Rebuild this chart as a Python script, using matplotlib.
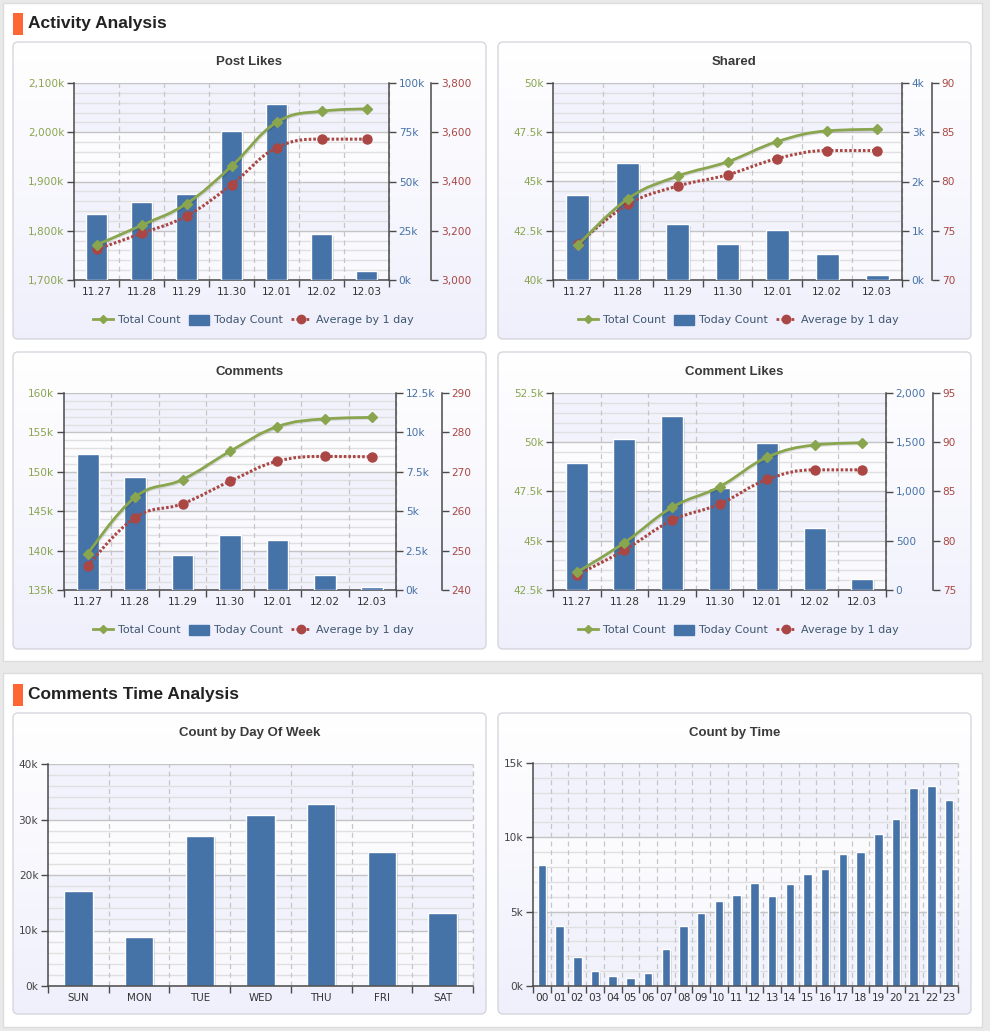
import numpy as np
import matplotlib
matplotlib.use('Agg')
import matplotlib.pyplot as plt
from matplotlib.path import Path
from matplotlib.patches import PathPatch, FancyBboxPatch, Rectangle, Patch
from matplotlib.lines import Line2D
import matplotlib.patheffects as pe

plt.rcParams['font.family'] = ['DejaVu Sans']

# ---------------- data ----------------
dates = ['11.27', '11.28', '11.29', '11.30', '12.01', '12.02', '12.03']

post_total = [1771500, 1811000, 1855000, 1931000, 2020000, 2042700, 2047400]
post_today = [33700, 39800, 43800, 75700, 89400, 23100, 4400]
post_avg = [3125, 3189, 3260, 3387, 3537, 3572, 3572]

shared_total = [41770, 44120, 45270, 46000, 47030, 47570, 47650]
shared_today = [1720, 2370, 1140, 740, 1020, 530, 100]
shared_avg = [73.65, 77.67, 79.53, 80.68, 82.33, 83.14, 83.14]

comments_total = [139560, 146780, 149020, 152600, 155740, 156710, 156900]
comments_today = [8610, 7160, 2240, 3500, 3190, 970, 190]
comments_avg = [246.1, 258.4, 261.9, 267.6, 272.7, 273.9, 273.8]

clikes_total = [43400, 44900, 46690, 47740, 49240, 49860, 49970]
clikes_today = [1287, 1530, 1764, 1037, 1493, 628, 115]
clikes_avg = [76.52, 79.05, 82.06, 83.72, 86.22, 87.2, 87.2]

dow_labels = ['SUN', 'MON', 'TUE', 'WED', 'THU', 'FRI', 'SAT']
dow_counts = [17100, 8860, 27070, 30840, 32800, 24200, 13200]

hour_labels = ['%02d' % h for h in range(24)]
hour_counts = [8120, 4060, 1930, 990, 650, 520, 900, 2470, 4060, 4890, 5740, 6100,
               6900, 6030, 6840, 7510, 7890, 8860, 8990, 10250, 11210, 13300, 13430, 12490]

# tick values / labels
post_left_ticks = [1700000, 1800000, 1900000, 2000000, 2100000]
post_left_labels = ['1,700k', '1,800k', '1,900k', '2,000k', '2,100k']
post_right_ticks = [0, 25000, 50000, 75000, 100000]
post_right_labels = ['0k', '25k', '50k', '75k', '100k']
post_third_ticks = [3000, 3200, 3400, 3600, 3800]
post_third_labels = ['3,000', '3,200', '3,400', '3,600', '3,800']

shared_left_ticks = [40000, 42500, 45000, 47500, 50000]
shared_left_labels = ['40k', '42.5k', '45k', '47.5k', '50k']
shared_right_ticks = [0, 1000, 2000, 3000, 4000]
shared_right_labels = ['0k', '1k', '2k', '3k', '4k']
shared_third_ticks = [70, 75, 80, 85, 90]
shared_third_labels = ['70', '75', '80', '85', '90']

comments_left_ticks = [135000, 140000, 145000, 150000, 155000, 160000]
comments_left_labels = ['135k', '140k', '145k', '150k', '155k', '160k']
comments_right_ticks = [0, 2500, 5000, 7500, 10000, 12500]
comments_right_labels = ['0k', '2.5k', '5k', '7.5k', '10k', '12.5k']
comments_third_ticks = [240, 250, 260, 270, 280, 290]
comments_third_labels = ['240', '250', '260', '270', '280', '290']

clikes_left_ticks = [42500, 45000, 47500, 50000, 52500]
clikes_left_labels = ['42.5k', '45k', '47.5k', '50k', '52.5k']
clikes_right_ticks = [0, 500, 1000, 1500, 2000]
clikes_right_labels = ['0', '500', '1,000', '1,500', '2,000']
clikes_third_ticks = [75, 80, 85, 90, 95]
clikes_third_labels = ['75', '80', '85', '90', '95']

dow_ticks = [0, 10000, 20000, 30000, 40000]
dow_tick_labels = ['0k', '10k', '20k', '30k', '40k']
hour_ticks = [0, 5000, 10000, 15000]
hour_tick_labels = ['0k', '5k', '10k', '15k']

legend_labels = ['Total Count', 'Today Count', 'Average by 1 day']

# ---------------- style ----------------
W, H = 990, 1031
GREEN = '#89A54E'
BLUE = '#4572A7'
RED = '#AA4643'
AXIS = '#4a4a4a'
TXT = '#3E576F'

fig = plt.figure(figsize=(W / 100, H / 100), dpi=100)
fig.patch.set_facecolor('#e9e9e9')

bg = fig.add_axes([0, 0, 1, 1])
bg.set_xlim(0, W)
bg.set_ylim(H, 0)
bg.axis('off')


def px_rect(l, t, r, b):
    return [l / W, 1 - b / H, (r - l) / W, (b - t) / H]


# page panels
bg.add_patch(Rectangle((3, 3), 979, 658, fc='white', ec='#dcdcdc', lw=1))
bg.add_patch(Rectangle((3, 673), 979, 354, fc='white', ec='#dcdcdc', lw=1))


def header(y, text):
    bg.add_patch(Rectangle((13, y - 11), 9.5, 22, fc='#FF6633', ec='none'))
    bg.text(28, y, text, fontsize=12.5, fontweight='bold', va='center', ha='left',
            color='#222222', family=['Liberation Sans', 'DejaVu Sans'])


header(23.5, 'Activity Analysis')
header(695, 'Comments Time Analysis')

grad = np.linspace(0, 1, 200)[:, None, None]
top_c = np.array([1.0, 1.0, 1.0])
bot_c = np.array([0.94, 0.94, 0.99])
grad_img = top_c * (1 - grad) + bot_c * grad


def card(x0, y0, x1, y1, title):
    patch = FancyBboxPatch((x0, y0), x1 - x0, y1 - y0,
                           boxstyle='round,pad=0,rounding_size=5',
                           fc='none', ec='#d6d6de', lw=1, zorder=3)
    bg.add_patch(patch)
    im = bg.imshow(grad_img, extent=(x0, x1, y1, y0), aspect='auto',
                   origin='upper', zorder=2, interpolation='bilinear')
    im.set_clip_path(patch)
    bg.text((x0 + x1) / 2, y0 + 20, title, fontsize=9.5, fontweight='bold',
            ha='center', va='center', color='#3a3a3a',
            family=['Liberation Sans', 'DejaVu Sans'])


def spline_path(xs, ys, smoothing=1.5):
    n = len(xs)
    denom = smoothing + 1
    lc = [(xs[i], ys[i]) for i in range(n)]
    rc = [(xs[i], ys[i]) for i in range(n)]
    for i in range(1, n - 1):
        lx, ly = xs[i - 1], ys[i - 1]
        px, py = xs[i], ys[i]
        nx, ny = xs[i + 1], ys[i + 1]
        lcx = (smoothing * px + lx) / denom
        lcy = (smoothing * py + ly) / denom
        rcx = (smoothing * px + nx) / denom
        rcy = (smoothing * py + ny) / denom
        if rcx != lcx:
            corr = ((rcy - lcy) * (rcx - px)) / (rcx - lcx) + py - rcy
            lcy += corr
            rcy += corr
        if lcy > ly and lcy > py:
            lcy = max(ly, py); rcy = 2 * py - lcy
        elif lcy < ly and lcy < py:
            lcy = min(ly, py); rcy = 2 * py - lcy
        if rcy > ny and rcy > py:
            rcy = max(ny, py); lcy = 2 * py - rcy
        elif rcy < ny and rcy < py:
            rcy = min(ny, py); lcy = 2 * py - rcy
        lc[i] = (lcx, lcy)
        rc[i] = (rcx, rcy)
    verts = [(xs[0], ys[0])]
    codes = [Path.MOVETO]
    for i in range(1, n):
        verts += [rc[i - 1], lc[i], (xs[i], ys[i])]
        codes += [Path.CURVE4] * 3
    return Path(verts, codes)


def style_x(ax, labels, fs=7.6):
    n = len(labels)
    ax.set_xlim(-0.5, n - 0.5)
    ax.set_xticks(range(n))
    ax.set_xticklabels(labels, fontsize=fs, color='#333333')
    ax.tick_params(axis='x', which='major', length=0, pad=5)
    ax.set_xticks(np.arange(-0.5, n, 1.0), minor=True)
    ax.tick_params(axis='x', which='minor', length=5, width=1, color=AXIS, direction='out')
    for xb in np.arange(0.5, n, 1.0):
        ax.axvline(xb, color='#c6c6c6', lw=0.9, ls=(0, (4, 3)), zorder=0.6, clip_on=False)


def style_left(ax, ticks, labels, color):
    ax.set_facecolor((1, 1, 1, 0.55))
    ax.set_ylim(ticks[0], ticks[-1])
    nb = len(ticks) - 1
    for i in range(nb):
        if (nb - 1 - i) % 2 == 0:
            ax.axhspan(ticks[i], ticks[i + 1], color='#f2f2fc', zorder=0.1, lw=0)
    ax.set_yticks(ticks)
    ax.set_yticklabels(labels, color=color, fontsize=7.6)
    step = (ticks[1] - ticks[0]) / 5
    ax.set_yticks(np.arange(ticks[0], ticks[-1] + step / 2, step), minor=True)
    ax.tick_params(axis='y', which='minor', length=0)
    ax.tick_params(axis='y', which='major', length=5, width=1, color=AXIS, direction='out', pad=2)
    ax.grid(True, axis='y', which='major', color='#c4c4c4', lw=1)
    ax.grid(True, axis='y', which='minor', color='#e0e0e0', lw=1)
    ax.set_axisbelow(True)
    for s in ['top', 'right']:
        ax.spines[s].set_visible(False)
    for s in ['left', 'bottom']:
        ax.spines[s].set_color(AXIS)
        ax.spines[s].set_linewidth(1.1)


bar_fx = [pe.SimplePatchShadow(offset=(1.2, -1.2), shadow_rgbFace='black', alpha=0.13), pe.Normal()]
line_fx = [pe.SimpleLineShadow(offset=(0.8, -0.8), shadow_color='black', alpha=0.10), pe.Normal()]


def legend(cx, cy):
    handles = [Line2D([], [], color=GREEN, lw=2, marker='D', markersize=4.5),
               Patch(facecolor=BLUE, edgecolor=BLUE),
               Line2D([], [], color=RED, lw=2, ls=(0, (1, 0.8)), marker='o', markersize=6)]
    fig.legend(handles, legend_labels, loc='center', bbox_to_anchor=(cx / W, 1 - cy / H),
               ncol=3, frameon=False, fontsize=8, handlelength=1.8, handleheight=1.0,
               columnspacing=0.8, handletextpad=0.4, labelcolor=TXT)


def combo(cardbox, title, plotbox, third_x, total, today, avg,
          lt, ll, rt, rl, tt, tl):
    x0, y0, x1, y1 = cardbox
    card(x0, y0, x1, y1, title)
    l, t, r, b = plotbox
    ax = fig.add_axes(px_rect(l, t, r, b))
    style_left(ax, lt, ll, GREEN)
    style_x(ax, dates)
    xs = np.arange(len(dates))

    ax2 = ax.twinx()
    ax2.set_ylim(rt[0], rt[-1])
    ax2.bar(xs, today, width=0.46, color=BLUE, edgecolor='white', linewidth=1,
            path_effects=bar_fx, zorder=2)
    ax2.set_yticks(rt)
    ax2.set_yticklabels(rl, color=BLUE, fontsize=7.6)
    ax2.tick_params(axis='y', length=5, width=1, color=AXIS, direction='out', pad=2)
    for s in ['top', 'left', 'bottom']:
        ax2.spines[s].set_visible(False)
    ax2.spines['right'].set_color(AXIS)
    ax2.spines['right'].set_linewidth(1.1)

    ax3 = ax.twinx()
    ax3.set_ylim(tt[0], tt[-1])
    ax3.spines['right'].set_position(('axes', (third_x - l) / (r - l)))
    for s in ['top', 'left', 'bottom']:
        ax3.spines[s].set_visible(False)
    ax3.spines['right'].set_color(AXIS)
    ax3.spines['right'].set_linewidth(1.1)
    ax3.set_yticks(tt)
    ax3.set_yticklabels(tl, color=RED, fontsize=7.6)
    ax3.tick_params(axis='y', length=5, width=1, color=AXIS, direction='out', pad=2)
    ax3.add_patch(PathPatch(spline_path(xs, avg), fill=False, ec=RED, lw=2.2,
                            ls=(0, (0.85, 0.65)), zorder=3))
    ax3.plot(xs, avg, ls='none', marker='o', markersize=6.5, color=RED, zorder=4,
             clip_on=False)

    ax4 = ax.twinx()
    ax4.set_ylim(lt[0], lt[-1])
    ax4.axis('off')
    ax4.add_patch(PathPatch(spline_path(xs, total), fill=False, ec=GREEN, lw=2,
                            zorder=3, path_effects=line_fx))
    ax4.plot(xs, total, ls='none', marker='D', markersize=4.8, color=GREEN, zorder=4,
             clip_on=False)

    legend((x0 + x1) / 2 + 4, y0 + 278)


combo((13, 42, 486, 339), 'Post Likes', (74, 83, 389, 280), 431,
      post_total, post_today, post_avg,
      post_left_ticks, post_left_labels, post_right_ticks, post_right_labels,
      post_third_ticks, post_third_labels)

combo((498, 42, 971, 339), 'Shared', (553, 83, 902, 280), 932,
      shared_total, shared_today, shared_avg,
      shared_left_ticks, shared_left_labels, shared_right_ticks, shared_right_labels,
      shared_third_ticks, shared_third_labels)

combo((13, 352, 486, 649), 'Comments', (64, 393, 396, 590), 442,
      comments_total, comments_today, comments_avg,
      comments_left_ticks, comments_left_labels, comments_right_ticks, comments_right_labels,
      comments_third_ticks, comments_third_labels)

combo((498, 352, 971, 649), 'Comment Likes', (553, 393, 886, 590), 933,
      clikes_total, clikes_today, clikes_avg,
      clikes_left_ticks, clikes_left_labels, clikes_right_ticks, clikes_right_labels,
      clikes_third_ticks, clikes_third_labels)


def single(cardbox, title, plotbox, labels, counts, ticks, tlabels, width, fs):
    x0, y0, x1, y1 = cardbox
    card(x0, y0, x1, y1, title)
    l, t, r, b = plotbox
    ax = fig.add_axes(px_rect(l, t, r, b))
    style_left(ax, ticks, tlabels, '#444444')
    style_x(ax, labels, fs=fs)
    ax.axvline(len(labels) - 0.5, color='#c6c6c6', lw=0.9, ls=(0, (4, 3)), zorder=0.6)
    ax.bar(np.arange(len(labels)), counts, width=width, color=BLUE, edgecolor='white',
           linewidth=1, path_effects=bar_fx, zorder=2)


single((13, 713, 486, 1014), 'Count by Day Of Week', (48, 764, 473, 986),
       dow_labels, dow_counts, dow_ticks, dow_tick_labels, 0.47, 7.4)
single((498, 713, 971, 1014), 'Count by Time', (533, 763, 958, 986),
       hour_labels, hour_counts, hour_ticks, hour_tick_labels, 0.48, 7.6)

fig.savefig('out.png', dpi=100, facecolor=fig.get_facecolor())
